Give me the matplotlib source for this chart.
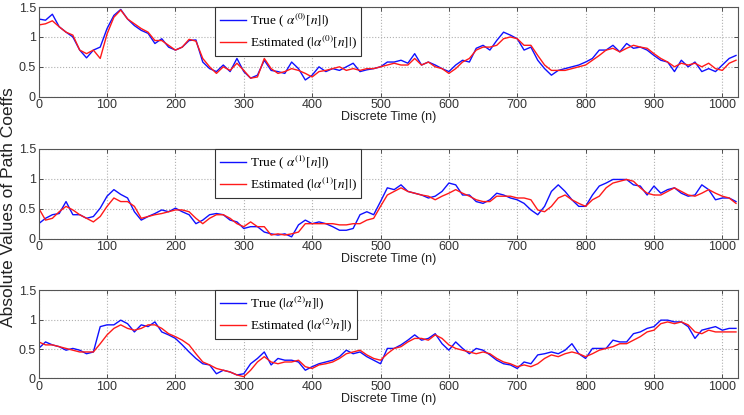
import matplotlib
matplotlib.use("Agg")
import matplotlib.pyplot as plt

# sample times (every 10th step of the discrete time axis)
time_n = list(range(0, 1030, 10))

true_0 = [1.30, 1.28, 1.38, 1.17, 1.08, 1.00, 0.78, 0.65, 0.78, 0.83,
          1.14, 1.36, 1.46, 1.30, 1.19, 1.11, 1.06, 0.89, 0.97, 0.83,
          0.78, 0.83, 0.94, 0.95, 0.58, 0.47, 0.42, 0.53, 0.42, 0.64,
          0.42, 0.31, 0.36, 0.61, 0.44, 0.42, 0.39, 0.58, 0.47, 0.28,
          0.36, 0.50, 0.42, 0.47, 0.44, 0.50, 0.56, 0.42, 0.45, 0.47,
          0.50, 0.58, 0.58, 0.61, 0.56, 0.72, 0.53, 0.58, 0.53, 0.47,
          0.42, 0.53, 0.61, 0.58, 0.81, 0.86, 0.78, 0.94, 1.08, 1.03,
          0.97, 0.78, 0.83, 0.61, 0.47, 0.36, 0.44, 0.47, 0.50, 0.53,
          0.58, 0.64, 0.78, 0.78, 0.86, 0.75, 0.89, 0.81, 0.83, 0.78,
          0.69, 0.61, 0.58, 0.42, 0.61, 0.50, 0.58, 0.42, 0.47, 0.42,
          0.53, 0.64, 0.69]
est_0 = [1.20, 1.22, 1.27, 1.17, 1.08, 1.03, 0.78, 0.72, 0.78, 0.64,
         1.05, 1.33, 1.45, 1.30, 1.22, 1.14, 1.08, 0.94, 0.94, 0.86,
         0.78, 0.83, 0.96, 0.93, 0.64, 0.50, 0.39, 0.50, 0.44, 0.56,
         0.44, 0.31, 0.33, 0.64, 0.47, 0.39, 0.42, 0.47, 0.44, 0.39,
         0.33, 0.42, 0.44, 0.47, 0.50, 0.44, 0.47, 0.44, 0.47, 0.47,
         0.50, 0.53, 0.56, 0.53, 0.53, 0.64, 0.53, 0.58, 0.50, 0.47,
         0.39, 0.47, 0.58, 0.64, 0.78, 0.83, 0.83, 0.86, 0.97, 1.00,
         0.97, 0.86, 0.86, 0.69, 0.53, 0.44, 0.44, 0.44, 0.47, 0.50,
         0.53, 0.61, 0.69, 0.78, 0.81, 0.75, 0.81, 0.86, 0.83, 0.81,
         0.72, 0.64, 0.58, 0.50, 0.56, 0.53, 0.56, 0.50, 0.56, 0.47,
         0.44, 0.56, 0.61]

true_1 = [0.25, 0.34, 0.40, 0.42, 0.62, 0.40, 0.40, 0.34, 0.37, 0.51,
          0.71, 0.82, 0.74, 0.68, 0.45, 0.31, 0.37, 0.42, 0.48, 0.45,
          0.51, 0.45, 0.40, 0.25, 0.31, 0.40, 0.42, 0.40, 0.31, 0.28,
          0.17, 0.20, 0.20, 0.11, 0.08, 0.06, 0.08, 0.03, 0.23, 0.31,
          0.25, 0.28, 0.25, 0.20, 0.14, 0.14, 0.17, 0.40, 0.45, 0.40,
          0.62, 0.85, 0.82, 0.90, 0.79, 0.76, 0.73, 0.68, 0.71, 0.79,
          0.93, 0.90, 0.73, 0.73, 0.62, 0.59, 0.65, 0.76, 0.73, 0.68,
          0.65, 0.59, 0.48, 0.40, 0.54, 0.79, 0.90, 0.79, 0.65, 0.54,
          0.54, 0.73, 0.88, 0.93, 0.99, 0.99, 0.99, 0.90, 0.88, 0.73,
          0.88, 0.76, 0.82, 0.85, 0.76, 0.71, 0.73, 0.90, 0.82, 0.65,
          0.68, 0.68, 0.62]
est_1 = [0.51, 0.31, 0.34, 0.45, 0.54, 0.48, 0.40, 0.34, 0.28, 0.37,
         0.54, 0.68, 0.62, 0.62, 0.54, 0.34, 0.37, 0.40, 0.42, 0.45,
         0.48, 0.48, 0.45, 0.34, 0.25, 0.34, 0.40, 0.40, 0.34, 0.25,
         0.20, 0.28, 0.20, 0.20, 0.06, 0.08, 0.06, 0.08, 0.11, 0.25,
         0.25, 0.25, 0.25, 0.25, 0.23, 0.23, 0.25, 0.25, 0.31, 0.34,
         0.54, 0.73, 0.79, 0.85, 0.79, 0.76, 0.73, 0.71, 0.65, 0.71,
         0.76, 0.82, 0.76, 0.71, 0.65, 0.62, 0.62, 0.71, 0.71, 0.71,
         0.68, 0.68, 0.65, 0.48, 0.45, 0.54, 0.68, 0.73, 0.65, 0.59,
         0.54, 0.65, 0.71, 0.85, 0.93, 0.96, 0.99, 0.96, 0.85, 0.76,
         0.73, 0.73, 0.79, 0.85, 0.79, 0.73, 0.71, 0.76, 0.82, 0.76,
         0.71, 0.68, 0.59]

true_2 = [0.51, 0.62, 0.57, 0.54, 0.48, 0.51, 0.48, 0.42, 0.45, 0.88,
          0.91, 0.91, 0.99, 0.93, 0.79, 0.91, 0.88, 0.96, 0.79, 0.74,
          0.68, 0.57, 0.45, 0.34, 0.25, 0.23, 0.08, 0.14, 0.11, 0.06,
          0.08, 0.25, 0.34, 0.45, 0.23, 0.34, 0.31, 0.31, 0.28, 0.14,
          0.20, 0.25, 0.28, 0.31, 0.37, 0.48, 0.42, 0.45, 0.37, 0.31,
          0.25, 0.51, 0.51, 0.57, 0.65, 0.74, 0.65, 0.68, 0.76, 0.59,
          0.48, 0.62, 0.51, 0.42, 0.51, 0.48, 0.40, 0.31, 0.25, 0.23,
          0.17, 0.28, 0.25, 0.40, 0.42, 0.45, 0.42, 0.48, 0.59, 0.42,
          0.34, 0.51, 0.51, 0.51, 0.65, 0.62, 0.62, 0.76, 0.79, 0.85,
          0.88, 0.99, 0.99, 0.96, 0.96, 0.88, 0.68, 0.82, 0.85, 0.88,
          0.82, 0.85, 0.85]
est_2 = [0.62, 0.57, 0.57, 0.54, 0.51, 0.48, 0.45, 0.45, 0.45, 0.59,
         0.74, 0.85, 0.91, 0.85, 0.82, 0.85, 0.91, 0.91, 0.85, 0.76,
         0.71, 0.65, 0.57, 0.42, 0.28, 0.23, 0.17, 0.14, 0.11, 0.06,
         0.03, 0.14, 0.28, 0.37, 0.28, 0.25, 0.28, 0.28, 0.31, 0.20,
         0.17, 0.23, 0.25, 0.28, 0.34, 0.42, 0.45, 0.48, 0.40, 0.34,
         0.31, 0.42, 0.51, 0.54, 0.62, 0.68, 0.68, 0.65, 0.74, 0.68,
         0.57, 0.51, 0.48, 0.45, 0.42, 0.45, 0.42, 0.34, 0.28, 0.25,
         0.20, 0.23, 0.20, 0.25, 0.34, 0.40, 0.37, 0.42, 0.45, 0.42,
         0.37, 0.42, 0.48, 0.51, 0.54, 0.59, 0.59, 0.65, 0.71, 0.79,
         0.82, 0.93, 0.96, 0.93, 0.96, 0.91, 0.79, 0.76, 0.82, 0.79,
         0.79, 0.79, 0.79]

panels = [
    (true_0, est_0, r"True ( $\alpha^{(0)}[n]|$)", r"Estimated ($|\alpha^{(0)}[n]|$)"),
    (true_1, est_1, r"True ( $\alpha^{(1)}[n]|$)", r"Estimated ($|\alpha^{(1)}[n]|$)"),
    (true_2, est_2, r"True ($|\alpha^{(2)}n]|$)", r"Estimated ($|\alpha^{(2)}n]|$)"),
]

plt.rcParams['font.family'] = 'Liberation Sans'
plt.rcParams['mathtext.fontset'] = 'stix'

fig = plt.figure(figsize=(7.44, 4.15), dpi=100)
rects = [
    [0.052, 0.767, 0.940, 0.216],
    [0.052, 0.425, 0.940, 0.216],
    [0.052, 0.088, 0.940, 0.213],
]

for rect, (tr, es, lab_t, lab_e) in zip(rects, panels):
    ax = fig.add_axes(rect)
    ax.plot(time_n, tr, color='#1010ff', linewidth=1.0, label=lab_t)
    ax.plot(time_n, es, color='#ff1a1a', linewidth=1.0, label=lab_e)
    ax.set_xlim(0, 1023)
    ax.set_ylim(0, 1.5)
    ax.set_xticks(range(0, 1001, 100))
    ax.set_yticks([0, 0.5, 1, 1.5])
    ax.set_yticklabels(['0', '0.5', '1', '1.5'])
    ax.tick_params(direction='in', top=True, right=True, labelsize=9,
                   length=3, width=0.6, colors='#333333', pad=2)
    for sp in ax.spines.values():
        sp.set_color('#555555')
        sp.set_linewidth(0.8)
    ax.grid(True, linestyle=':', color='#b0b0b0', linewidth=0.8)
    ax.set_xlabel('Discrete Time (n)', fontsize=9, labelpad=0, color='#222222')
    leg = ax.legend(loc='upper left', bbox_to_anchor=(0.252, 1.0), borderaxespad=0,
                    fancybox=False, framealpha=1, edgecolor='#333333',
                    prop={'family': 'Liberation Serif', 'size': 9.5},
                    handlelength=2.0, handletextpad=0.3, borderpad=0.35,
                    labelspacing=0.35)
    leg.get_frame().set_linewidth(0.8)

fig.text(0.011, 0.50, 'Absolute Values of Path Coeffs', rotation=90,
         ha='center', va='center', fontsize=12.5, color='#222222')

fig.savefig('out.png', dpi=100)
